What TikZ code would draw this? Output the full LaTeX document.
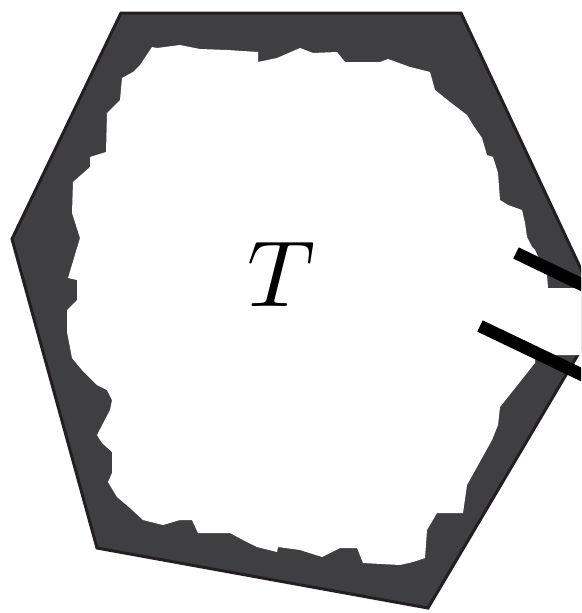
\documentclass[tikz,border=0pt]{standalone}
\begin{document}
\begin{tikzpicture}[x=1pt,y=-1pt,
  frame/.style={fill=framegray,draw=edgedark,line width=3pt,line join=miter},
  hole/.style={fill=white},
  bar/.style={line width=12.5pt,black,line cap=butt}]
\definecolor{framegray}{HTML}{3F3F41}
\definecolor{edgedark}{HTML}{231F20}
\useasboundingbox (0,0) rectangle (581,613);
\clip (0,0) rectangle (581,613);
% outer frame
\path[frame] (121,13) -- (461,13) -- (602,314) -- (428,608) -- (97,548) -- (12,239) -- cycle;
% irregular white interior (with the notch on the right)
\path[hole] (152,47) -- (157,48) -- (180,45) -- (200,49) -- (227,50) -- (258,52) -- (258,62)
  -- (277,58) -- (300,48) -- (313,53) -- (337,52) -- (345,62) -- (380,62) -- (388,59)
  -- (410,67) -- (430,72) -- (435,90) -- (450,102) -- (467,115) -- (473,125) -- (482,138)
  -- (487,155) -- (493,157) -- (498,173) -- (500,200) -- (508,205) -- (522,210) -- (525,223)
  -- (527,237) -- (532,247) -- (535,250) -- (541,263) -- (547,275) -- (548,288)
  -- (600,288) -- (600,355) -- (535,355) -- (535,363) -- (500,407) -- (498,425)
  -- (492,440) -- (467,485) -- (463,513) -- (437,513) -- (427,530) -- (425,558)
  -- (413,562) -- (400,565) -- (363,563) -- (357,548) -- (340,548) -- (322,557)
  -- (300,550) -- (278,547) -- (277,552) -- (257,547) -- (243,540) -- (230,533)
  -- (198,533) -- (192,520) -- (180,520) -- (163,525) -- (143,520) -- (130,508)
  -- (117,497) -- (108,482) -- (112,473) -- (112,452) -- (102,443) -- (97,435)
  -- (110,410) -- (112,400) -- (107,390) -- (97,385) -- (82,370) -- (72,358)
  -- (67,332) -- (67,310) -- (77,300) -- (77,280) -- (68,278) -- (80,238)
  -- (72,213) -- (73,182) -- (90,167) -- (90,157) -- (106,152) -- (107,113)
  -- (115,105) -- (120,100) -- (122,78) -- (133,72) -- (140,65) -- cycle;
% label
\node[scale=9.4,inner sep=0pt] (T) at (281,274) {$T$};
% the two bars
\coordinate (a1) at (516,253);
\coordinate (a2) at (620,303);
\coordinate (b1) at (480,326);
\coordinate (b2) at (620,393);
\draw[bar] (a1) -- (a2);
\draw[bar] (b1) -- (b2);
\end{tikzpicture}
\end{document}
